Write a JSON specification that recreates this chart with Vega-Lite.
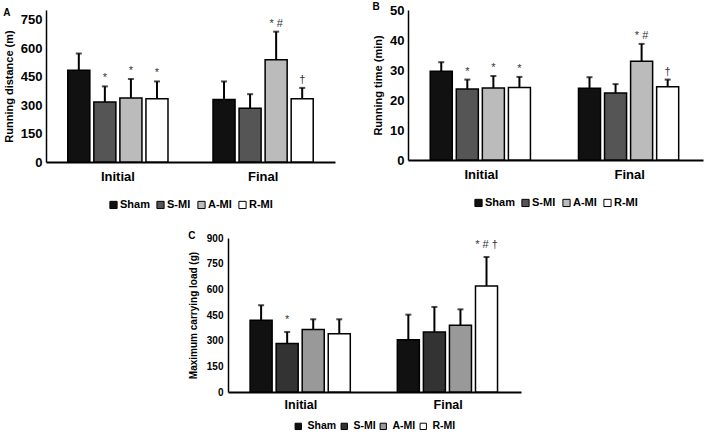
{
  "$schema": "https://vega.github.io/schema/vega-lite/v6.json",
  "padding": {"left": 3, "top": 2, "right": 2, "bottom": 0},
  "background": "white",
  "config": {
    "font": "Liberation Sans",
    "view": {"stroke": null},
    "axis": {"grid": false, "domainColor": "black", "labelColor": "black", "titleColor": "black", "labelFont": "Liberation Sans", "titleFont": "Liberation Sans", "labelFontWeight": "bold", "titleFontWeight": "bold", "labelOverlap": false},
    "legend": {"orient": "bottom", "direction": "horizontal", "title": null, "symbolType": "square", "symbolSize": 52, "symbolStrokeColor": "black", "symbolStrokeWidth": 1, "labelFontSize": 11, "labelFontWeight": "bold", "labelColor": "black", "labelFont": "Liberation Sans", "columnPadding": 4, "labelOffset": 1, "offset": 16, "layout": {"bottom": {"anchor": "middle"}}},
    "title": {"anchor": "start", "frame": "bounds", "fontSize": 10, "fontWeight": "bold", "font": "Liberation Sans", "color": "black", "offset": -8}
  },
  "datasets": {
    "dataA": [
      {"time": "Initial", "group": "Sham", "mean": 483, "err": 571, "sig": ""},
      {"time": "Initial", "group": "S-MI", "mean": 316, "err": 398, "sig": "*"},
      {"time": "Initial", "group": "A-MI", "mean": 337, "err": 437, "sig": "*"},
      {"time": "Initial", "group": "R-MI", "mean": 333, "err": 424, "sig": "*"},
      {"time": "Final", "group": "Sham", "mean": 329, "err": 424, "sig": ""},
      {"time": "Final", "group": "S-MI", "mean": 283, "err": 357, "sig": ""},
      {"time": "Final", "group": "A-MI", "mean": 538, "err": 686, "sig": "* #"},
      {"time": "Final", "group": "R-MI", "mean": 333, "err": 390, "sig": "†"}
    ],
    "dataB": [
      {"time": "Initial", "group": "Sham", "mean": 29.6, "err": 32.6, "sig": ""},
      {"time": "Initial", "group": "S-MI", "mean": 23.7, "err": 26.8, "sig": "*"},
      {"time": "Initial", "group": "A-MI", "mean": 24.0, "err": 28.0, "sig": "*"},
      {"time": "Initial", "group": "R-MI", "mean": 24.2, "err": 27.7, "sig": "*"},
      {"time": "Final", "group": "Sham", "mean": 23.9, "err": 27.6, "sig": ""},
      {"time": "Final", "group": "S-MI", "mean": 22.3, "err": 25.3, "sig": ""},
      {"time": "Final", "group": "A-MI", "mean": 32.9, "err": 38.7, "sig": "* #"},
      {"time": "Final", "group": "R-MI", "mean": 24.4, "err": 26.8, "sig": "†"}
    ],
    "dataC": [
      {"time": "Initial", "group": "Sham", "mean": 419, "err": 507, "sig": ""},
      {"time": "Initial", "group": "S-MI", "mean": 283, "err": 351, "sig": "*"},
      {"time": "Initial", "group": "A-MI", "mean": 365, "err": 425, "sig": ""},
      {"time": "Initial", "group": "R-MI", "mean": 341, "err": 425, "sig": ""},
      {"time": "Final", "group": "Sham", "mean": 306, "err": 452, "sig": ""},
      {"time": "Final", "group": "S-MI", "mean": 351, "err": 497, "sig": ""},
      {"time": "Final", "group": "A-MI", "mean": 390, "err": 483, "sig": ""},
      {"time": "Final", "group": "R-MI", "mean": 619, "err": 789, "sig": "* # †"}
    ]
  },
  "resolve": {"scale": {"color": "independent", "fill": "independent"}, "legend": {"fill": "independent"}},
  "center": true,
  "spacing": 20,
  "vconcat": [
    {
      "spacing": 37,
      "resolve": {"scale": {"fill": "independent"}, "legend": {"fill": "independent"}},
      "hconcat": [
        {
          "width": 289, "height": 152,
          "title": {"text": "A"},
          "data": {"name": "dataA"},
          "encoding": {
            "x": {"field": "time", "type": "nominal", "sort": ["Initial", "Final"], "scale": {"paddingInner": 0.31, "paddingOuter": 0.15}, "axis": {"title": null, "labelAngle": 0, "ticks": false, "domainWidth": 2, "labelFontSize": 13, "labelPadding": 8}},
            "xOffset": {"field": "group", "type": "nominal", "sort": ["Sham", "S-MI", "A-MI", "R-MI"], "scale": {"paddingInner": 0.154, "paddingOuter": 0}}
          },
          "layer": [
            {"mark": {"type": "bar", "stroke": "black", "strokeWidth": 1.5},
             "encoding": {
               "y": {"field": "mean", "type": "quantitative", "title": "Running distance (m)", "scale": {"domain": [0, 750]}, "axis": {"values": [0, 150, 300, 450, 600, 750], "tickCount": 20, "labelOverlap": false, "ticks": false, "domainWidth": 1.5, "labelFontSize": 13, "titleFontSize": 11, "titlePadding": 6, "labelPadding": 4}},
               "fill": {"field": "group", "type": "nominal", "sort": ["Sham", "S-MI", "A-MI", "R-MI"], "scale": {"domain": ["Sham", "S-MI", "A-MI", "R-MI"], "range": ["#111111", "#555555", "#bbbbbb", "#ffffff"]}}
             }},
            {"mark": {"type": "rule", "color": "black", "strokeWidth": 2},
             "encoding": {"y": {"field": "mean", "type": "quantitative", "title": "Running distance (m)"}, "y2": {"field": "err"}}},
            {"mark": {"type": "tick", "color": "black", "thickness": 2, "size": 6},
             "encoding": {"y": {"field": "err", "type": "quantitative", "title": "Running distance (m)"}}},
            {"mark": {"type": "text", "dy": -5, "fontSize": 11, "baseline": "alphabetic", "color": "#333333"},
             "encoding": {"y": {"field": "err", "type": "quantitative", "title": "Running distance (m)"}, "text": {"field": "sig"}}}
          ]
        },
        {
          "width": 295, "height": 150,
          "title": {"text": "B"},
          "data": {"name": "dataB"},
          "encoding": {
            "x": {"field": "time", "type": "nominal", "sort": ["Initial", "Final"], "scale": {"paddingInner": 0.31, "paddingOuter": 0.15}, "axis": {"title": null, "labelAngle": 0, "ticks": false, "domainWidth": 2, "labelFontSize": 13, "labelPadding": 8}},
            "xOffset": {"field": "group", "type": "nominal", "sort": ["Sham", "S-MI", "A-MI", "R-MI"], "scale": {"paddingInner": 0.154, "paddingOuter": 0}}
          },
          "layer": [
            {"mark": {"type": "bar", "stroke": "black", "strokeWidth": 1.5},
             "encoding": {
               "y": {"field": "mean", "type": "quantitative", "title": "Running time (min)", "scale": {"domain": [0, 50]}, "axis": {"values": [0, 10, 20, 30, 40, 50], "tickCount": 20, "labelOverlap": false, "ticks": false, "domainWidth": 1.5, "labelFontSize": 13, "titleFontSize": 11, "titlePadding": 6, "labelPadding": 4}},
               "fill": {"field": "group", "type": "nominal", "sort": ["Sham", "S-MI", "A-MI", "R-MI"], "scale": {"domain": ["Sham", "S-MI", "A-MI", "R-MI"], "range": ["#111111", "#555555", "#bbbbbb", "#ffffff"]}}
             }},
            {"mark": {"type": "rule", "color": "black", "strokeWidth": 2},
             "encoding": {"y": {"field": "mean", "type": "quantitative", "title": "Running time (min)"}, "y2": {"field": "err"}}},
            {"mark": {"type": "tick", "color": "black", "thickness": 2, "size": 6},
             "encoding": {"y": {"field": "err", "type": "quantitative", "title": "Running time (min)"}}},
            {"mark": {"type": "text", "dy": -5, "fontSize": 11, "baseline": "alphabetic", "color": "#333333"},
             "encoding": {"y": {"field": "err", "type": "quantitative", "title": "Running time (min)"}, "text": {"field": "sig"}}}
          ]
        }
      ]
    },
    {
      "width": 293, "height": 154,
      "title": {"text": "C"},
      "data": {"name": "dataC"},
      "encoding": {
        "x": {"field": "time", "type": "nominal", "sort": ["Initial", "Final"], "scale": {"paddingInner": 0.31, "paddingOuter": 0.15}, "axis": {"title": null, "labelAngle": 0, "ticks": false, "domainWidth": 2, "labelFontSize": 12.5, "labelPadding": 6}},
        "xOffset": {"field": "group", "type": "nominal", "sort": ["Sham", "S-MI", "A-MI", "R-MI"], "scale": {"paddingInner": 0.154, "paddingOuter": 0}}
      },
      "layer": [
        {"mark": {"type": "bar", "stroke": "black", "strokeWidth": 1.5},
         "encoding": {
           "y": {"field": "mean", "type": "quantitative", "title": "Maximum carrying load (g)", "scale": {"domain": [0, 900]}, "axis": {"values": [0, 150, 300, 450, 600, 750, 900], "tickCount": 20, "labelOverlap": false, "ticks": false, "domainWidth": 1.5, "labelFontSize": 10, "titleFontSize": 10, "titlePadding": 8, "labelPadding": 5}},
           "fill": {"field": "group", "type": "nominal", "sort": ["Sham", "S-MI", "A-MI", "R-MI"], "scale": {"domain": ["Sham", "S-MI", "A-MI", "R-MI"], "range": ["#111111", "#333333", "#999999", "#ffffff"]}, "legend": {"labelFontSize": 10.5, "columnPadding": 2, "labelOffset": 4, "symbolSize": 40, "offset": 10}}
         }},
        {"mark": {"type": "rule", "color": "black", "strokeWidth": 2},
         "encoding": {"y": {"field": "mean", "type": "quantitative", "title": "Maximum carrying load (g)"}, "y2": {"field": "err"}}},
        {"mark": {"type": "tick", "color": "black", "thickness": 2, "size": 6},
         "encoding": {"y": {"field": "err", "type": "quantitative", "title": "Maximum carrying load (g)"}}},
        {"mark": {"type": "text", "dy": -9, "fontSize": 11, "baseline": "alphabetic", "color": "#333333"},
         "encoding": {"y": {"field": "err", "type": "quantitative", "title": "Maximum carrying load (g)"}, "text": {"field": "sig"}}}
      ]
    }
  ]
}
